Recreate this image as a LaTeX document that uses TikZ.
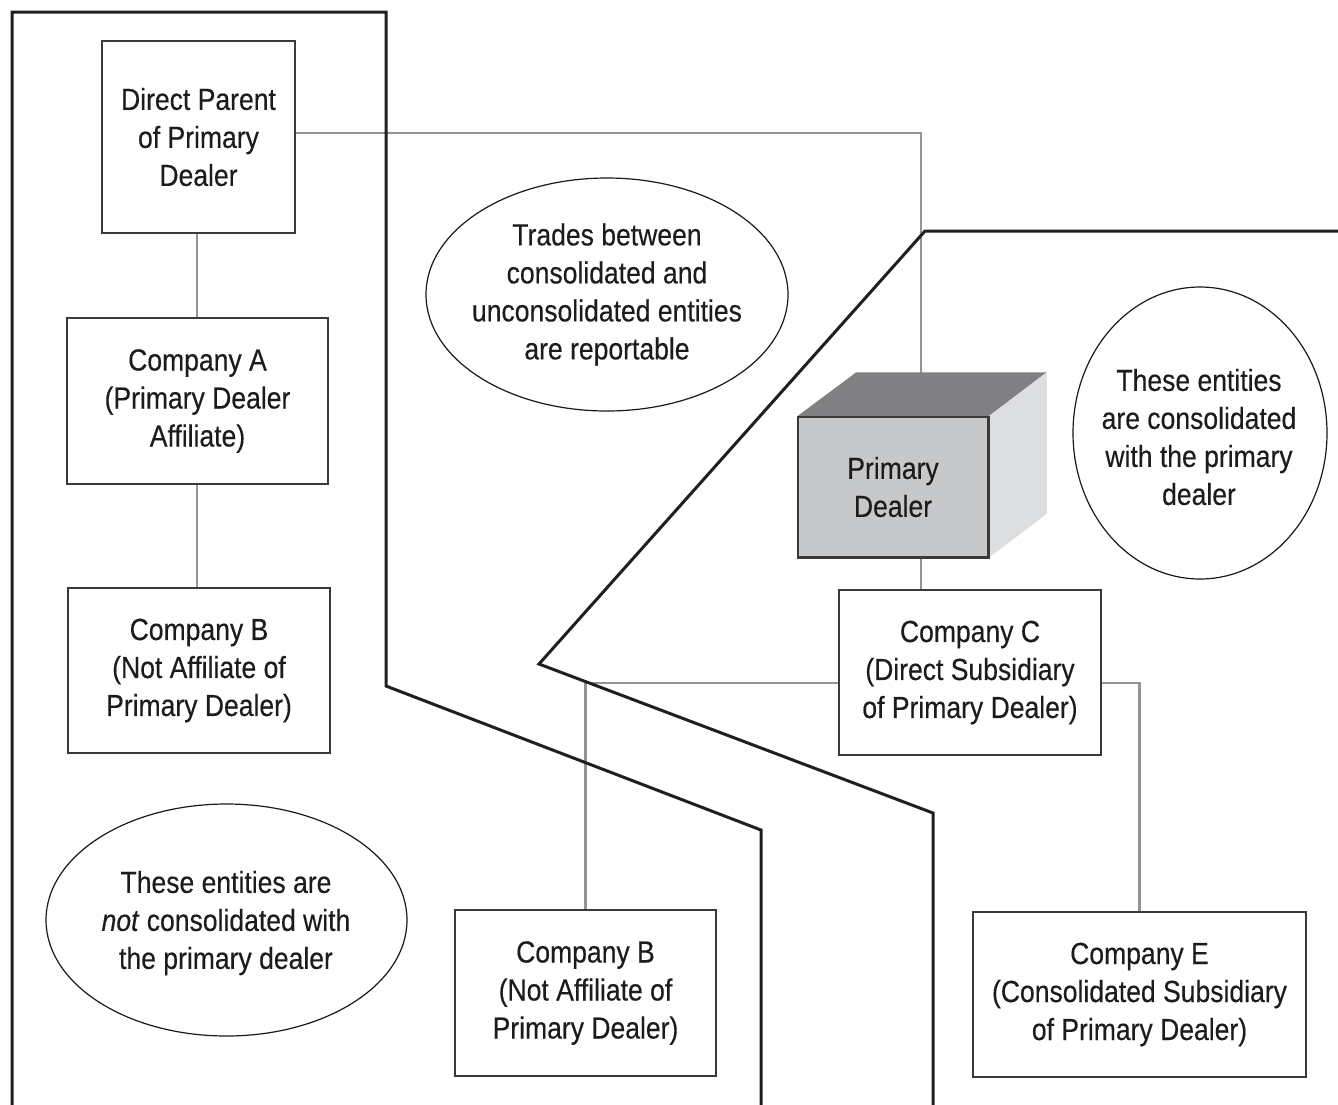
\documentclass[tikz,border=0pt]{standalone}
\usepackage{fontspec}
\setmainfont{Liberation Sans}[FakeStretch=0.87,FakeBold=0.3]
\usetikzlibrary{shapes.geometric,calc}
\definecolor{inkc}{HTML}{1E1B1C}
\definecolor{boxc}{HTML}{3A3A3A}
\definecolor{connc}{HTML}{949496}
\definecolor{topc}{HTML}{808083}
\definecolor{frontc}{HTML}{C7C8CA}
\definecolor{sidec}{HTML}{DDDEE0}
\tikzset{
  txt/.style={text=inkc,align=center,inner sep=0pt,font=\fontsize{30.5}{38}\selectfont},
  entbox/.style={draw=boxc,line width=1.5pt,inner sep=0pt,text=inkc,align=center,font=\fontsize{30.5}{38}\selectfont},
  conn/.style={draw=connc,line width=2.8pt},
  bound/.style={draw=black!88,line width=3pt,line join=miter},
  ell/.style={draw=black!90,line width=1.2pt,ellipse,inner sep=0pt},
}
\begin{document}
\begin{tikzpicture}[x=1pt,y=-1pt]
\useasboundingbox (0,0) rectangle (1338,1104);
\fill[white] (0,0) rectangle (1338,1104);

% boxes
\node[entbox,minimum width=193pt,minimum height=192pt] (dp) at (198.5,137) {Direct Parent\\of Primary\\Dealer};
\node[entbox,minimum width=261pt,minimum height=166pt] (ca) at (197.5,401) {Company A\\(Primary Dealer\\Affiliate)};
\node[entbox,minimum width=262pt,minimum height=165pt] (cb) at (199,670.5) {Company B\\(Not Affiliate of\\Primary Dealer)};
\node[entbox,minimum width=262pt,minimum height=165pt] (cc) at (970,672.5) {Company C\\(Direct Subsidiary\\of Primary Dealer)};
\node[entbox,minimum width=261pt,minimum height=166pt] (cbb) at (585.5,993) {Company B\\(Not Affiliate of\\Primary Dealer)};
\node[entbox,minimum width=333pt,minimum height=165pt] (ce) at (1139.5,994.5) {Company E\\(Consolidated Subsidiary\\of Primary Dealer)};

% connectors
\coordinate (jp) at (921,133);
\coordinate (cubetop) at (921,373);
\coordinate (cubebot) at (921,557);
\coordinate (hline) at (0,683);
\draw[conn] (dp.east |- jp) -- (jp) -- (cubetop);
\draw[conn] (dp.south -| 197,0) -- (ca.north -| 197,0);
\draw[conn] (ca.south -| 197,0) -- (cb.north -| 197,0);
\draw[conn] (cubebot) -- (cubebot |- cc.north);
\draw[conn] (cc.west |- hline) -| (cbb.north);
\draw[conn] (cc.east |- hline) -| (ce.north);

% cube
\node[draw=boxc,line width=1.5pt,fill=frontc,minimum width=190pt,minimum height=140pt,inner sep=0pt,text=inkc,align=center,font=\fontsize{30.5}{38}\selectfont] (pd) at (893,487) {Primary\\Dealer};
\fill[topc] (pd.north west) -- ($(pd.north west)+(59,-44)$) -- ($(pd.north east)+(58,-44)$) -- (pd.north east) -- cycle;
\fill[sidec] (pd.north east) -- ($(pd.north east)+(58,-44)$) -- ($(pd.south east)+(58,-44)$) -- (pd.south east) -- cycle;
\draw[boxc,line width=1.5pt] (pd.north west) rectangle (pd.south east);

% ellipses
\node[ell,minimum width=362pt,minimum height=233pt] (e1) at (607,294.5) {};
\node[txt] (e1t) at (e1.center) {Trades between\\consolidated and\\unconsolidated entities\\are reportable};
\node[ell,minimum width=254pt,minimum height=292pt] (e2) at (1200,433) {};
\node[txt] (e2t) at (1199,437) {These entities\\are consolidated\\with the primary\\dealer};
\node[ell,minimum width=361pt,minimum height=232pt] (e3) at (226.5,920) {};
\node[txt] (e3t) at (226,923) {These entities are\\\textit{not} consolidated with\\the primary dealer};

% boundaries
\draw[bound] (12,1110) -- (12,12) -- (386,12) -- (386,686) -- (761,830) -- (761,1110);
\draw[bound] (1345,231) -- (925,231) -- (539,664) -- (933,813) -- (933,1110);
\end{tikzpicture}
\end{document}
